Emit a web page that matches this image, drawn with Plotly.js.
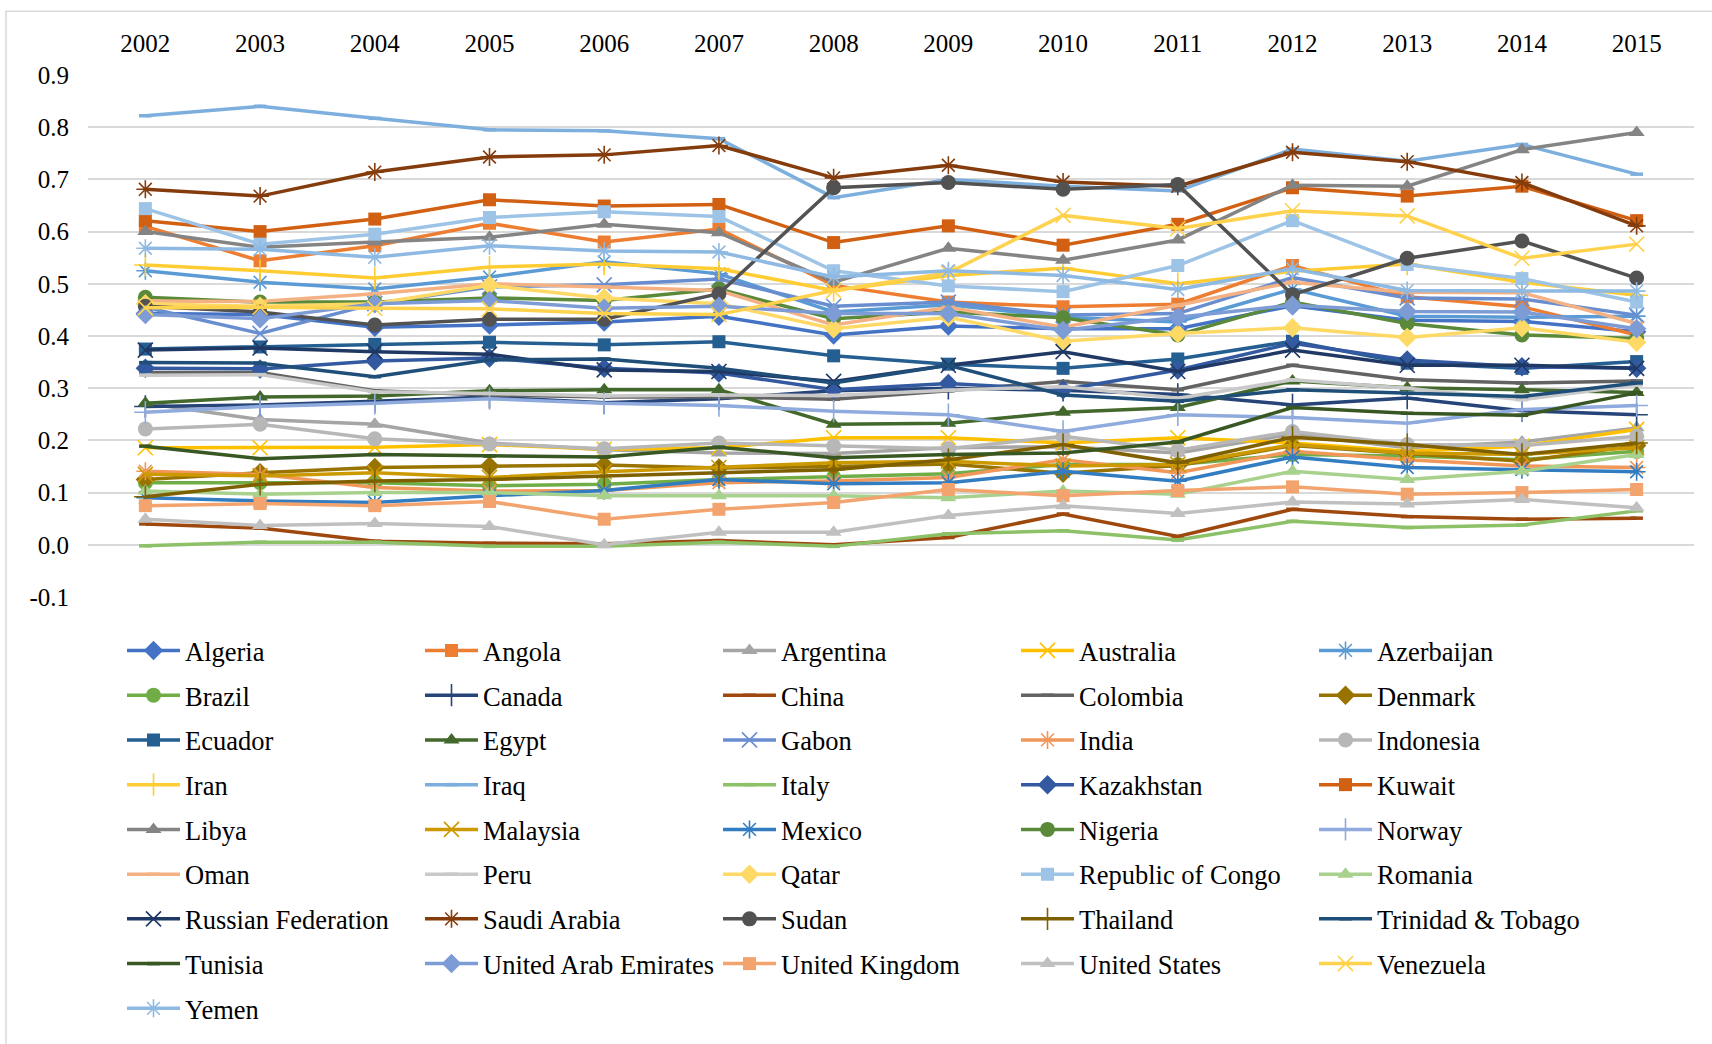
<!DOCTYPE html>
<html><head><meta charset="utf-8">
<script src="https://cdn.plot.ly/plotly-3.0.1.min.js"></script>
<style>html,body{margin:0;padding:0;background:#fff}#chart{width:1712px;height:1044px}</style>
</head><body><div id="chart"></div>
<script>
const years = ['2002','2003','2004','2005','2006','2007','2008','2009','2010','2011','2012','2013','2014','2015'];
const yTickValues = [-0.1,0,0.1,0.2,0.3,0.4,0.5,0.6,0.7,0.8,0.9];
const yTickLabels = ['-0.1','0.0','0.1','0.2','0.3','0.4','0.5','0.6','0.7','0.8','0.9'];

const algeria    = [0.443,0.441,0.417,0.421,0.427,0.438,0.402,0.419,0.414,0.414,0.458,0.430,0.428,0.408];
const angola     = [0.610,0.544,0.573,0.616,0.580,0.605,0.497,0.465,0.456,0.461,0.535,0.475,0.456,0.402];
const argentina  = [0.271,0.240,0.231,0.195,0.182,0.176,0.175,0.186,0.188,0.176,0.212,0.186,0.197,0.224];
const australia  = [0.186,0.186,0.187,0.192,0.183,0.186,0.205,0.205,0.195,0.205,0.195,0.179,0.189,0.221];
const azerbaijan = [0.525,0.503,0.490,0.513,0.542,0.519,0.446,0.460,0.436,0.427,0.490,0.438,0.436,0.438];
const brazil     = [0.119,0.119,0.119,0.113,0.116,0.125,0.130,0.136,0.154,0.154,0.173,0.170,0.163,0.179];
const canada     = [0.265,0.268,0.275,0.283,0.272,0.280,0.295,0.300,0.296,0.288,0.268,0.281,0.257,0.249];
const china      = [0.040,0.032,0.007,0.003,0.002,0.008,0.000,0.014,0.059,0.016,0.068,0.054,0.049,0.051];
const colombia   = [0.330,0.330,0.295,0.287,0.283,0.283,0.279,0.295,0.313,0.297,0.344,0.316,0.310,0.314];
const denmark    = [0.125,0.138,0.148,0.151,0.153,0.147,0.150,0.155,0.137,0.152,0.190,0.175,0.160,0.190];
const ecuador    = [0.375,0.379,0.384,0.388,0.383,0.389,0.362,0.346,0.338,0.356,0.390,0.348,0.338,0.351];
const egypt      = [0.271,0.283,0.285,0.295,0.297,0.297,0.231,0.233,0.254,0.263,0.314,0.301,0.297,0.292];
const gabon      = [0.455,0.405,0.462,0.494,0.498,0.509,0.457,0.465,0.440,0.443,0.512,0.473,0.471,0.440];
const india      = [0.141,0.135,0.110,0.103,0.104,0.119,0.122,0.129,0.163,0.138,0.179,0.163,0.151,0.148];
const indonesia  = [0.222,0.231,0.203,0.193,0.184,0.195,0.189,0.184,0.208,0.181,0.217,0.192,0.190,0.208];
const iran       = [0.536,0.525,0.511,0.532,0.538,0.529,0.487,0.516,0.530,0.500,0.524,0.538,0.503,0.478];
const iraq       = [0.822,0.840,0.817,0.795,0.793,0.778,0.665,0.700,0.687,0.678,0.758,0.735,0.767,0.710];
const italy      = [-0.002,0.005,0.005,-0.003,-0.003,0.005,-0.003,0.021,0.027,0.009,0.045,0.033,0.038,0.065];
const kazakhstan = [0.338,0.337,0.352,0.358,0.338,0.329,0.297,0.309,0.297,0.335,0.386,0.354,0.341,0.338];
const kuwait     = [0.621,0.600,0.624,0.661,0.649,0.652,0.579,0.611,0.574,0.614,0.684,0.668,0.687,0.621];
const libya      = [0.600,0.570,0.580,0.589,0.614,0.598,0.503,0.568,0.545,0.584,0.689,0.687,0.757,0.790];
const malaysia   = [0.135,0.132,0.138,0.129,0.140,0.148,0.157,0.160,0.151,0.154,0.192,0.176,0.173,0.186];
const mexico     = [0.090,0.084,0.081,0.094,0.104,0.125,0.117,0.119,0.141,0.122,0.168,0.148,0.144,0.140];
const nigeria    = [0.474,0.465,0.465,0.473,0.468,0.490,0.433,0.446,0.435,0.402,0.465,0.424,0.402,0.395];
const norway     = [0.254,0.265,0.271,0.280,0.271,0.267,0.256,0.249,0.217,0.249,0.244,0.233,0.259,0.267];
const oman       = [0.467,0.466,0.481,0.500,0.494,0.487,0.421,0.455,0.417,0.459,0.503,0.484,0.483,0.424];
const peru       = [0.325,0.326,0.293,0.290,0.285,0.287,0.286,0.296,0.303,0.281,0.316,0.300,0.278,0.306];
const qatar      = [0.462,0.457,0.462,0.497,0.473,0.462,0.414,0.436,0.390,0.405,0.416,0.397,0.416,0.388];
const repCongo   = [0.644,0.576,0.595,0.627,0.638,0.629,0.525,0.496,0.485,0.535,0.621,0.537,0.510,0.465];
const romania    = [0.103,0.097,0.100,0.100,0.094,0.094,0.094,0.090,0.103,0.097,0.141,0.125,0.141,0.173];
const russia     = [0.373,0.377,0.370,0.365,0.335,0.332,0.313,0.344,0.370,0.332,0.373,0.344,0.344,0.338];
const saudi      = [0.681,0.668,0.714,0.743,0.747,0.765,0.703,0.727,0.695,0.687,0.752,0.734,0.694,0.611];
const sudan      = [0.457,0.446,0.421,0.432,0.432,0.481,0.684,0.694,0.681,0.690,0.479,0.549,0.582,0.511];
const thailand   = [0.092,0.116,0.122,0.125,0.132,0.138,0.144,0.163,0.192,0.157,0.206,0.192,0.173,0.195];
const trinidad   = [0.349,0.348,0.322,0.354,0.356,0.338,0.310,0.344,0.287,0.275,0.297,0.290,0.284,0.310];
const tunisia    = [0.189,0.165,0.173,0.170,0.168,0.187,0.167,0.173,0.176,0.197,0.263,0.252,0.248,0.291];
const uae        = [0.441,0.433,0.462,0.468,0.453,0.457,0.443,0.443,0.411,0.436,0.459,0.447,0.446,0.414];
const uk         = [0.075,0.079,0.075,0.083,0.049,0.068,0.081,0.106,0.094,0.104,0.111,0.097,0.100,0.106];
const us         = [0.049,0.037,0.041,0.035,0.000,0.024,0.024,0.056,0.075,0.060,0.082,0.078,0.087,0.071];
const venezuela  = [0.454,0.455,0.453,0.452,0.443,0.441,0.487,0.521,0.631,0.606,0.640,0.630,0.549,0.576];
const yemen      = [0.568,0.566,0.551,0.573,0.563,0.561,0.513,0.525,0.516,0.489,0.529,0.487,0.486,0.486];

const countries = ['Algeria','Angola','Argentina','Australia','Azerbaijan','Brazil','Canada','China','Colombia','Denmark',
  'Ecuador','Egypt','Gabon','India','Indonesia','Iran','Iraq','Italy','Kazakhstan','Kuwait',
  'Libya','Malaysia','Mexico','Nigeria','Norway','Oman','Peru','Qatar','Republic of Congo','Romania',
  'Russian Federation','Saudi Arabia','Sudan','Thailand','Trinidad & Tobago','Tunisia','United Arab Emirates','United Kingdom','United States','Venezuela','Yemen'];
const seriesValues = [algeria,angola,argentina,australia,azerbaijan,brazil,canada,china,colombia,denmark,
  ecuador,egypt,gabon,india,indonesia,iran,iraq,italy,kazakhstan,kuwait,
  libya,malaysia,mexico,nigeria,norway,oman,peru,qatar,repCongo,romania,
  russia,saudi,sudan,thailand,trinidad,tunisia,uae,uk,us,venezuela,yemen];

const colors = ['#4472C4','#ED7D31','#A5A5A5','#FFC000','#5B9BD5','#70AD47',
  '#264478','#9E480E','#636363','#997300','#255E91','#43682B',
  '#698ED0','#F1975A','#B7B7B7','#FFCD33','#7CAFDD','#8CC168',
  '#335AA1','#D26012','#848484','#CC9A00','#327DC2','#5A8A39',
  '#8FAADC','#F4B183','#C9C9C9','#FFD966','#9DC3E6','#A9D18E',
  '#203864','#843C0C','#525252','#7F6000','#1F4E79','#385723',
  '#7D9CD6','#F2A36E','#C0C0C0','#FFD24D','#8EB9E2'];
const markerCycle = ['diamond','square','triangle-up','x-thin-open','asterisk-open','circle','cross-thin-open','line-ew-open','line-ew-open'];

const traces = countries.map((name, i) => {
  const sym = markerCycle[i % 9];
  const open = sym.indexOf('open') >= 0;
  const row = Math.floor(i / 5);
  let size = 14;
  if (sym === 'diamond') size = 15;
  if (sym === 'square') size = 13;
  if (sym === 'circle') size = 15;
  if (sym === 'x-thin-open' || sym === 'asterisk-open') size = 15;
  if (sym === 'cross-thin-open') size = 16;
  if (sym === 'line-ew-open') size = 9;
  return {
    type: 'scatter', mode: 'lines+markers', name: name,
    x: years, y: seriesValues[i],
    legend: row === 0 ? 'legend' : 'legend' + (row + 1),
    line: {color: colors[i], width: 3.5},
    marker: {symbol: sym, size: size, color: colors[i],
      line: {color: colors[i], width: open ? (sym === 'line-ew-open' ? 3.5 : 1.6) : 0}},
    hoverinfo: 'skip'
  };
});

const plotL = 88, plotR = 1694, plotT = 75, plotB = 600;
const pw = plotR - plotL, ph = plotB - plotT;
const layout = {
  width: 1712, height: 1044,
  margin: {l: plotL, r: 1712 - plotR, t: plotT, b: 1044 - plotB},
  paper_bgcolor: '#fff', plot_bgcolor: '#fff',
  font: {family: 'Liberation Serif, Times New Roman, serif', size: 25, color: '#000'},
  showlegend: true,
  hovermode: false,
  xaxis: {type: 'category', side: 'top', range: [-0.5, 13.5], showgrid: false, showline: false,
    zeroline: false, ticks: '', tickfont: {size: 25, color: '#000'}, ticklabelstandoff: 17, fixedrange: true},
  yaxis: {range: [-0.1, 0.9], tickvals: yTickValues, ticktext: yTickLabels, showgrid: true,
    gridcolor: '#D9D9D9', gridwidth: 2, zeroline: false, showline: false, ticks: '',
    tickfont: {size: 25, color: '#000'}, ticklabelstandoff: 18, fixedrange: true},
  shapes: [{type: 'rect', xref: 'paper', yref: 'paper',
    x0: (6 - plotL) / pw, x1: (1730 - plotL) / pw, y0: (plotB - 1060) / ph, y1: (plotB - 11) / ph,
    line: {color: '#D9D9D9', width: 1.5}, fillcolor: 'rgba(0,0,0,0)', layer: 'below'}]
};
for (let r = 0; r < 9; r++) {
  const key = r === 0 ? 'legend' : 'legend' + (r + 1);
  const cy = 654 + 45 * r;
  layout[key] = {orientation: 'h', x: (122 - plotL) / pw, xanchor: 'left',
    y: (plotB - cy) / ph, yanchor: 'middle', entrywidth: 230, entrywidthmode: 'pixels',
    itemwidth: 53, bgcolor: 'rgba(0,0,0,0)', borderwidth: 0, traceorder: 'normal',
    font: {family: 'Liberation Serif, Times New Roman, serif', size: 26.5, color: '#000'},
    itemclick: false, itemdoubleclick: false};
}
Plotly.newPlot('chart', traces, layout, {displayModeBar: false, staticPlot: true});
</script></body></html>
